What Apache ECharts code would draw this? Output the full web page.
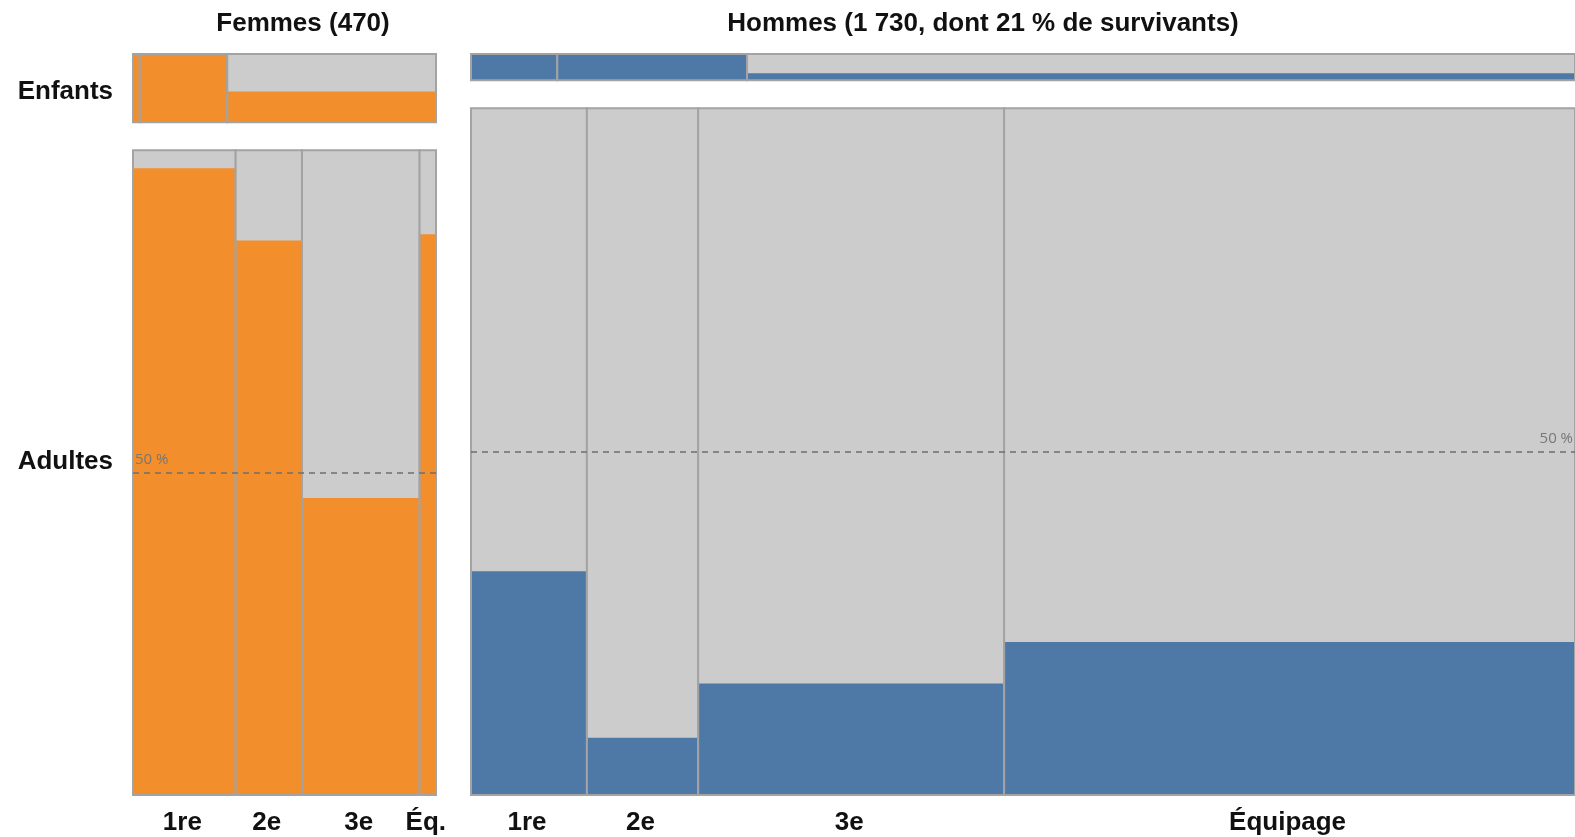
<!DOCTYPE html>
<html>
<head>
<meta charset="utf-8">
<title>Titanic : survie par sexe, âge et classe</title>
<script src="https://cdn.jsdelivr.net/npm/echarts@6/dist/echarts.min.js"></script>
<style>
  html, body { margin: 0; padding: 0; background: #ffffff; }
  #chart { width: 1575px; height: 837px; }
</style>
</head>
<body>
<div id="chart"></div>
<script>
// Passagers et équipage du Titanic, par sexe, âge et classe
const classLabelsFemmes = ['1re', '2e', '3e', 'Éq.'];
const classLabelsHommes = ['1re', '2e', '3e', 'Équipage'];
const rowLabels = ['Enfants', 'Adultes'];
const panelTitles = ['Femmes (470)', 'Hommes (1 730, dont 21 % de survivants)'];
const refLabel = '50 %';

const femmesEnfantsTotal = [1, 13, 31, 0];
const femmesEnfantsSurv  = [1, 13, 14, 0];
const femmesAdultesTotal = [144, 93, 165, 23];
const femmesAdultesSurv  = [140, 80, 76, 20];

const hommesEnfantsTotal = [5, 11, 48, 0];
const hommesEnfantsSurv  = [5, 11, 13, 0];
const hommesAdultesTotal = [175, 168, 462, 862];
const hommesAdultesSurv  = [57, 14, 75, 192];

// Mise en page
const FONT = "'Liberation Sans', Arial, Helvetica, sans-serif";
const TEXT_FONT = 'bold 26px ' + FONT;
const GREY = '#cccccc';
const EDGE = '#a3a3a3';
const ORANGE = '#f28e2b';
const BLUE = '#4e79a7';
const pxPerPerson = 303 / 470;
const topY = 54, bottomY = 795, rowGap = 28;
const usableH = bottomY - topY - rowGap;

const sum = a => a.reduce((s, v) => s + v, 0);

function panelGrids(left, childTotals, adultTotals) {
  const c = sum(childTotals), a = sum(adultTotals);
  const width = (c + a) * pxPerPerson;
  const hC = usableH * c / (c + a);
  return [
    { left: left, top: topY, width: width, height: hC },
    { left: left, top: topY + hC + rowGap, width: width, height: usableH - hC }
  ];
}

const gridsF = panelGrids(133, femmesEnfantsTotal, femmesAdultesTotal);
const gridsH = panelGrids(471, hommesEnfantsTotal, hommesAdultesTotal);
const grids = [gridsF[0], gridsF[1], gridsH[0], gridsH[1]];

// Cellules : [début, fin, part de survivants, indice de classe]
function cells(totals, surv) {
  const out = [];
  let x = 0;
  totals.forEach((t, i) => {
    if (t > 0) out.push([x, x + t, surv[i] / t, i]);
    x += t;
  });
  return out;
}

const rows = [
  { data: cells(femmesEnfantsTotal, femmesEnfantsSurv), total: sum(femmesEnfantsTotal), color: ORANGE, labels: null },
  { data: cells(femmesAdultesTotal, femmesAdultesSurv), total: sum(femmesAdultesTotal), color: ORANGE, labels: classLabelsFemmes, ref: 'start' },
  { data: cells(hommesEnfantsTotal, hommesEnfantsSurv), total: sum(hommesEnfantsTotal), color: BLUE, labels: null },
  { data: cells(hommesAdultesTotal, hommesAdultesSurv), total: sum(hommesAdultesTotal), color: BLUE, labels: classLabelsHommes, ref: 'end' }
];

function makeRender(row) {
  return function (params, api) {
    const x0 = api.value(0), x1 = api.value(1), f = api.value(2), ci = api.value(3);
    const tl = api.coord([x0, 1]);
    const br = api.coord([x1, 0]);
    const st = api.coord([x1, f]);
    const children = [
      { type: 'rect', shape: { x: tl[0], y: tl[1], width: br[0] - tl[0], height: br[1] - tl[1] },
        style: { fill: GREY } },
      { type: 'rect', shape: { x: tl[0], y: st[1], width: br[0] - tl[0], height: br[1] - st[1] },
        style: { fill: row.color } },
      { type: 'rect', shape: { x: tl[0], y: tl[1], width: br[0] - tl[0], height: br[1] - tl[1] },
        style: { fill: null, stroke: EDGE, lineWidth: 2 } }
    ];
    if (row.labels) {
      children.push({
        type: 'text',
        style: {
          text: row.labels[ci], x: (tl[0] + br[0]) / 2 - 2, y: br[1] + 28,
          align: 'center', verticalAlign: 'middle',
          font: TEXT_FONT, fill: '#111111'
        }
      });
    }
    return { type: 'group', children: children };
  };
}

const series = rows.map((row, i) => {
  const s = {
    type: 'custom',
    xAxisIndex: i, yAxisIndex: i,
    coordinateSystem: 'cartesian2d',
    encode: { x: [0, 1], y: 2 },
    clip: false,
    silent: true,
    renderItem: makeRender(row),
    data: row.data
  };
  if (row.ref) {
    s.markLine = {
      silent: true,
      symbol: 'none',
      animation: false,
      lineStyle: { type: [6, 5], color: 'rgba(110,110,110,0.75)', width: 2 },
      label: {
        show: true,
        formatter: refLabel,
        position: row.ref === 'start' ? 'insideStartTop' : 'insideEndTop',
        color: '#777777',
        fontFamily: "'Open Sans', 'Noto Sans', sans-serif",
        fontSize: 15,
        distance: [2, 5]
      },
      data: [{ yAxis: 0.5 }]
    };
  }
  return s;
});

const chart = echarts.init(document.getElementById('chart'), null, { renderer: 'canvas' });
chart.setOption({
  animation: false,
  backgroundColor: '#ffffff',
  grid: grids,
  xAxis: rows.map((row, i) => ({ type: 'value', gridIndex: i, min: 0, max: row.total, show: false })),
  yAxis: rows.map((row, i) => ({ type: 'value', gridIndex: i, min: 0, max: 1, show: false })),
  series: series,
  graphic: [
    { type: 'text', x: 303, y: 24, style: { text: panelTitles[0], align: 'center', verticalAlign: 'middle', font: TEXT_FONT, fill: '#111111' } },
    { type: 'text', x: 983, y: 24, style: { text: panelTitles[1], align: 'center', verticalAlign: 'middle', font: TEXT_FONT, fill: '#111111' } },
    { type: 'text', x: 113, y: 92, style: { text: rowLabels[0], align: 'right', verticalAlign: 'middle', font: TEXT_FONT, fill: '#111111' } },
    { type: 'text', x: 113, y: 462, style: { text: rowLabels[1], align: 'right', verticalAlign: 'middle', font: TEXT_FONT, fill: '#111111' } }
  ]
});
</script>
</body>
</html>
